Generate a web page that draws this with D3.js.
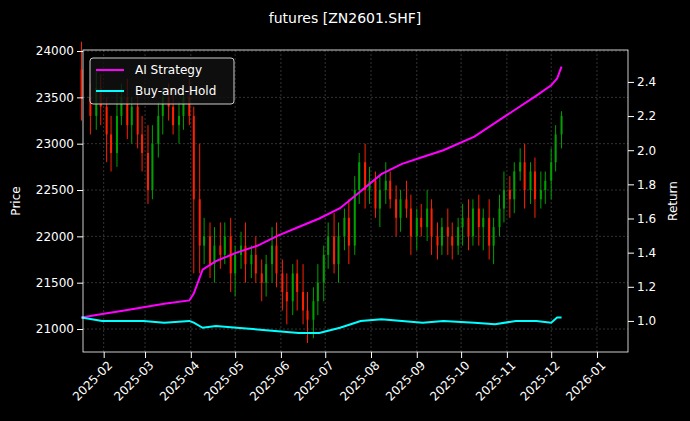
<!DOCTYPE html>
<html><head><meta charset="utf-8">
<script src="https://cdn.jsdelivr.net/npm/d3@7"></script>
<style>body{margin:0;background:#000}svg{display:block;font-family:"DejaVu Sans",sans-serif}</style>
</head><body><svg id="c" width="690" height="421"></svg>
<script>
// Candles: two per week (Mon, Thu) from 2025-01-20
const closes = [23500,23300,23600,23400,23100,22900,23300,23500,23200,23400,23100,22900,22500,23000,23300,23500,23400,23200,23300,23500,23300,22400,21900,22000,21700,21900,21800,22000,21600,21800,21900,21700,21800,21600,21500,21700,21900,21600,21400,21300,21600,21400,21200,21100,21300,21500,21800,22000,21700,22000,22200,21900,22500,22800,22500,22600,22300,22500,22600,22400,22200,22400,22300,22000,22200,22100,22300,22000,21900,22100,22000,21900,22100,22200,22000,22300,22100,22200,21900,22100,22300,22500,22400,22700,22800,22500,22700,22400,22500,22600,22800,23100,23300];
const wickUp =   [300,150,200,150,100,200,250,150,200,100,150,200,300,200,150,100,150,200,150,100,200,100,600,200,150,200,250,150,200,100,150,250,100,200,150,100,200,250,150,200,100,150,300,200,150,200,100,150,250,150,100,200,150,100,200,150,100,150,200,100,150,100,200,150,100,150,200,100,150,100,200,150,100,150,200,100,150,100,200,100,150,200,150,100,150,200,100,150,200,100,150,100,50];
const wickDown = [250,200,150,200,300,200,150,100,150,200,150,200,150,100,150,200,150,100,200,150,100,800,300,200,150,200,150,100,200,250,150,200,150,100,200,150,200,150,200,250,150,200,150,250,200,150,200,150,100,200,150,200,100,150,200,150,100,200,150,100,200,150,100,200,150,100,150,200,150,100,200,150,100,200,150,100,200,250,150,200,100,150,200,150,100,200,150,200,100,150,200,100,150];
const firstOpen = 23800;

// Returns: weekly
const retDates = ["2025-01-17","2025-01-31","2025-02-14","2025-02-28","2025-03-14","2025-03-31","2025-04-03","2025-04-09","2025-04-18","2025-05-02","2025-05-16","2025-05-30","2025-06-13","2025-06-27","2025-07-11","2025-07-25","2025-08-08","2025-08-22","2025-09-05","2025-09-19","2025-10-10","2025-10-24","2025-11-07","2025-11-21","2025-12-01","2025-12-05","2025-12-08"];
const aiStrategy = [1.02,1.04,1.06,1.08,1.10,1.12,1.16,1.30,1.35,1.40,1.44,1.50,1.55,1.60,1.66,1.76,1.86,1.92,1.96,2.00,2.08,2.16,2.24,2.32,2.38,2.42,2.49];
const buyHold =    [1.02,1.00,1.00,1.00,0.99,1.00,0.99,0.96,0.97,0.96,0.95,0.94,0.93,0.93,0.96,1.00,1.01,1.00,0.99,1.00,0.99,0.98,1.00,1.00,0.99,1.02,1.02];

const leftTicks = [21000,21500,22000,22500,23000,23500,24000];
const rightTicks = [1.0,1.2,1.4,1.6,1.8,2.0,2.2,2.4];
const monthTicks = ["2025-02","2025-03","2025-04","2025-05","2025-06","2025-07","2025-08","2025-09","2025-10","2025-11","2025-12","2026-01"];

const parse = d3.timeParse("%Y-%m-%d"), pm = d3.timeParse("%Y-%m");
const candleDates = [];
{ let d = new Date(2025,0,20); let i=0;
  while (candleDates.length < closes.length) { candleDates.push(new Date(d)); d = d3.timeDay.offset(d, i%2===0?3:4); i++; } }
candleDates[0] = new Date(2025,0,17);

const M = {l:83,r:628,t:50,b:352};
const svg = d3.select("#c");
svg.append("rect").attr("width",690).attr("height",421).attr("fill","#000");
const x = d3.scaleTime().domain([new Date(2025,0,18), new Date(2026,0,22)]).range([M.l,M.r]);
const y = d3.scaleLinear().domain([20752,24011]).range([M.b,M.t]);
const y2 = d3.scaleLinear().domain([0.818,2.587]).range([M.b,M.t]);

const g = svg.append("g");
monthTicks.forEach(m=>{const xx=x(pm(m));g.append("line").attr("x1",xx).attr("x2",xx).attr("y1",M.t).attr("y2",M.b).attr("stroke","#555").attr("stroke-width",0.6).attr("stroke-dasharray","2,2");});
leftTicks.forEach(v=>{const yy=y(v);g.append("line").attr("x1",M.l).attr("x2",M.r).attr("y1",yy).attr("y2",yy).attr("stroke","#555").attr("stroke-width",0.6).attr("stroke-dasharray","2,2");});

closes.forEach((c,i)=>{
  const o = i===0?firstOpen:closes[i-1];
  const col = c>=o ? "#00a000" : "#ff2000";
  const xx = x(candleDates[i]);
  const hi = Math.max(o,c)+wickUp[i], lo = Math.min(o,c)-wickDown[i];
  g.append("line").attr("x1",xx).attr("x2",xx).attr("y1",y(hi)).attr("y2",y(lo)).attr("stroke",col).attr("stroke-width",1);
  g.append("rect").attr("x",xx-1).attr("width",2).attr("y",y(Math.max(o,c))).attr("height",Math.max(1,y(Math.min(o,c))-y(Math.max(o,c)))).attr("fill",col);
});

const line = d3.line().x((d,i)=>x(parse(retDates[i]))).y(d=>y2(d));
g.append("path").datum(aiStrategy).attr("d",line).attr("fill","none").attr("stroke","#ff00ff").attr("stroke-width",2);
g.append("path").datum(buyHold).attr("d",line).attr("fill","none").attr("stroke","#00ffff").attr("stroke-width",2);

svg.append("rect").attr("x",M.l).attr("y",M.t).attr("width",M.r-M.l).attr("height",M.b-M.t).attr("fill","none").attr("stroke","#fff").attr("stroke-width",0.8);

const ax = svg.append("g").attr("transform",`translate(0,${M.b})`).call(d3.axisBottom(x).tickValues(monthTicks.map(pm)).tickFormat(d3.timeFormat("%Y-%m")).tickSizeOuter(0));
ax.selectAll("text").attr("transform","rotate(-45)").style("text-anchor","end").attr("dx","-0.3em").attr("dy","0.6em");
const ay = svg.append("g").attr("transform",`translate(${M.l},0)`).call(d3.axisLeft(y).tickValues(leftTicks).tickFormat(d3.format("d")).tickSizeOuter(0));
const ay2 = svg.append("g").attr("transform",`translate(${M.r},0)`).call(d3.axisRight(y2).tickValues(rightTicks).tickFormat(d3.format(".1f")).tickSizeOuter(0));
[ax,ay,ay2].forEach(a=>{a.select(".domain").remove();a.selectAll("line").attr("stroke","#fff");a.selectAll("text").attr("fill","#fff").style("font-size","12px").style("font-family","DejaVu Sans");});

svg.append("text").attr("x",345).attr("y",23).attr("text-anchor","middle").attr("fill","#fff").style("font-size","14px").text("futures [ZN2601.SHF]");
svg.append("text").attr("transform","translate(20,201) rotate(-90)").attr("text-anchor","middle").attr("fill","#fff").style("font-size","12px").text("Price");
svg.append("text").attr("transform","translate(677,201) rotate(-90)").attr("text-anchor","middle").attr("fill","#fff").style("font-size","12px").text("Return");

const lg = svg.append("g");
lg.append("rect").attr("x",90).attr("y",58).attr("width",144).attr("height",46).attr("rx",3).attr("fill","#111").attr("fill-opacity",0.8).attr("stroke","#ccc");
[["AI Strategy","#ff00ff"],["Buy-and-Hold","#00ffff"]].forEach((d,i)=>{
  const yy = 70+i*21;
  lg.append("line").attr("x1",96).attr("x2",124).attr("y1",yy).attr("y2",yy).attr("stroke",d[1]).attr("stroke-width",2);
  lg.append("text").attr("x",135).attr("y",yy+4).attr("fill","#fff").style("font-size","12px").text(d[0]);
});
</script></body></html>
